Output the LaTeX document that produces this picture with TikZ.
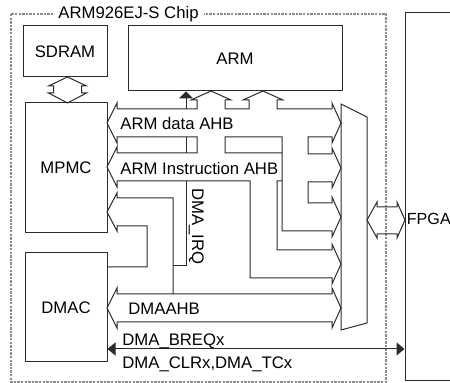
\documentclass[tikz,border=0pt]{standalone}
\usepackage{fontspec}
\setmainfont{Liberation Sans}
\usepackage{tikz}
\usetikzlibrary{arrows.meta,calc}
\definecolor{Ink}{HTML}{2B2B2B}
\definecolor{Dash}{HTML}{8C8C8C}
\newcommand{\busfont}{\fontsize{8.35}{10}\selectfont}
\tikzset{
  >={Triangle[length=4pt,width=6.5pt]},
  blk/.style={draw=Ink,line width=.5pt,inner sep=0pt,font=\busfont},
  bus/.style={draw=Ink,line width=.5pt,line join=miter},
  sig/.style={draw=Ink,line width=.5pt},
  chip/.style={draw=Dash,line width=.6pt,dash pattern=on 1.2pt off .6pt},
  txt/.style={font=\busfont,inner sep=0pt}
}

\begin{document}
\begin{tikzpicture}[x=.5pt,y=-.5pt]
  \useasboundingbox (0,0) rectangle (450,383);
  % chip outline
  \draw[chip] (11,14) rectangle (386,382);
  \node[txt,fill=white,inner xsep=2.8pt,inner ysep=1pt,anchor=base] (title) at (128.5,19) {ARM926EJ-S Chip};
  % blocks
  \node[blk,minimum width=42pt,minimum height=25.5pt] (sdram) at (65,51.5) {SDRAM};
  \node[blk,minimum width=107pt,minimum height=32.5pt] (arm) at (235,58.5) {ARM};
  \node[blk,minimum width=41pt,minimum height=65pt] (mpmc) at (66,168) {MPMC};
  \node[blk,minimum width=41pt,minimum height=54.5pt] (dmac) at (66,307.5) {DMAC};
  \node[blk,minimum width=40pt,minimum height=184pt] (fpga) at (445,197) {};
  \node[txt,anchor=base west,font=\fontsize{8.05}{10}\selectfont] (fpgalab) at (406.5,225) {FPGA};
  % bus mux
  \draw[bus] (341,104) -- (367,117) -- (367,323) -- (341,330) -- cycle;

  % SDRAM <-> MPMC
  \draw[bus] (67.5,77) -- (86.5,86) -- (81.5,86) -- (81.5,93) -- (86.5,93) -- (67.5,103)
    -- (48.5,93) -- (53.5,93) -- (53.5,86) -- (48.5,86) -- cycle;
  % mux <-> FPGA
  \draw[bus] (367,220) -- (377,202) -- (377,207) -- (397,207) -- (397,202) -- (405,220)
    -- (397,238) -- (397,234) -- (377,234) -- (377,238) -- cycle;

  % ARM data AHB, ARM ports, mux inputs 1-3
  \draw[bus] (117,109) -- (197,109) -- (197,100) -- (191,100) -- (211,91) -- (231,100) -- (225,100)
    -- (225,109) -- (249,109) -- (249,100) -- (243,100) -- (263,91) -- (283,100) -- (277,100)
    -- (277,109) -- (332,109) -- (332,103) -- (341,123) -- (332,143) -- (332,137)
    -- (308,137) -- (308,154) -- (332,154) -- (332,148) -- (341,168) -- (332,188) -- (332,182)
    -- (308,182) -- (308,203) -- (332,203) -- (332,197) -- (341,217) -- (332,237) -- (332,231)
    -- (282,231) -- (282,137) -- (225,137) -- (225,153) -- (282,153);
  % ARM instruction AHB, mux input 4
  \draw[bus] (117,109) -- (117,103) -- (107,123) -- (117,143) -- (117,137) -- (197,137)
    -- (197,153) -- (117,153) -- (117,147) -- (107,167) -- (117,187) -- (117,181)
    -- (250,181) -- (250,278) -- (332,278) -- (332,284) -- (341,264) -- (332,244) -- (332,250)
    -- (277,250) -- (277,181) -- (282,181);
  % MPMC <-> DMAC slave
  \draw[bus] (173,294) -- (173,198) -- (117,198) -- (117,193) -- (107,212) -- (117,231)
    -- (117,226) -- (147,226) -- (147,267) -- (107,267);
  % DMA AHB
  \draw[bus] (117,294) -- (332,294) -- (332,288) -- (341,308) -- (332,328) -- (332,322)
    -- (117,322) -- (117,328) -- (107,308) -- (117,288) -- cycle;

  % DMA_IRQ
  \coordinate (irq) at (173,266);
  \draw[sig,{Triangle[length=3.5pt,width=7pt]}-] (arm.south -| 186,0) -- (186,109);
  \draw[sig] (186,137) -- (186,153) (186,181) -- (186,266) -- (irq);
  % DMA request lines
  \draw[sig,<->] (dmac.east |- 0,349) -- (fpga.west |- 0,349);

  % labels
  \node[txt,anchor=base west] (datalab) at (120,130) {ARM data AHB};
  \node[txt,anchor=base west] (instlab) at (120,175) {ARM Instruction AHB};
  \node[txt,anchor=base west] (dmaahb) at (128,315) {DMAAHB};
  \node[txt,anchor=base west,rotate=-90] (irqlab) at (192,188) {DMA\_IRQ};
  \node[txt,anchor=base west] (breq) at (122,346) {DMA\_BREQx};
  \node[txt,anchor=base west] (clr) at (122,369) {DMA\_CLRx,DMA\_TCx};
\end{tikzpicture}
\end{document}
